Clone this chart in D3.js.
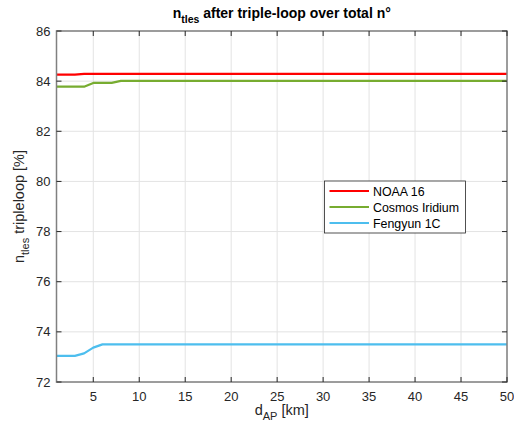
<!DOCTYPE html>
<html>
<head>
<meta charset="utf-8">
<script src="https://cdn.jsdelivr.net/npm/d3@7"></script>
<style>
  html, body { margin: 0; padding: 0; background: #fff; }
  svg { display: block; font-family: "Liberation Sans", Arial, sans-serif; }
</style>
</head>
<body>
<div id="chart"></div>
<script>
// series data (only the points where the value changes; line is flat in between)
const noaaX = [1, 3, 4, 50];
const noaaY = [84.26, 84.26, 84.29, 84.29];
const cosmosX = [1, 4, 5, 7, 8, 50];
const cosmosY = [83.78, 83.78, 83.93, 83.93, 84.01, 84.01];
const fengyunX = [1, 3, 4, 5, 6, 50];
const fengyunY = [73.04, 73.04, 73.14, 73.37, 73.5, 73.5];

const seriesNames = ['NOAA 16', 'Cosmos Iridium', 'Fengyun 1C'];
const seriesColors = ['#ff0000', '#77ac30', '#4dbeee'];

const xTicks = [5, 10, 15, 20, 25, 30, 35, 40, 45, 50];
const yTicks = [72, 74, 76, 78, 80, 82, 84, 86];

(function () {
  const W = 514, H = 434;
  const m = { left: 56.5, right: 7, top: 31, bottom: 52 };

  const svg = d3.select('#chart').append('svg')
    .attr('width', W).attr('height', H);

  const x = d3.scaleLinear().domain([1, 50]).range([m.left, W - m.right]);
  const y = d3.scaleLinear().domain([72, 86]).range([H - m.bottom, m.top]);

  const series = [
    { name: seriesNames[0], color: seriesColors[0], xs: noaaX, ys: noaaY },
    { name: seriesNames[1], color: seriesColors[1], xs: cosmosX, ys: cosmosY },
    { name: seriesNames[2], color: seriesColors[2], xs: fengyunX, ys: fengyunY }
  ];

  // grid
  const grid = svg.append('g').attr('stroke', '#e3e3e3').attr('stroke-width', 1);
  grid.selectAll('line.gx').data(xTicks).enter().append('line')
    .attr('x1', d => x(d)).attr('x2', d => x(d))
    .attr('y1', y(72)).attr('y2', y(86));
  grid.selectAll('line.gy').data(yTicks).enter().append('line')
    .attr('y1', d => y(d)).attr('y2', d => y(d))
    .attr('x1', x(1)).attr('x2', x(50));

  // lines
  const line = d3.line().x(d => x(d[0])).y(d => y(d[1]));
  svg.append('g').selectAll('path').data(series).enter().append('path')
    .attr('fill', 'none')
    .attr('stroke', d => d.color)
    .attr('stroke-width', 2.2)
    .attr('stroke-linejoin', 'round')
    .attr('d', d => line(d.xs.map((v, i) => [v, d.ys[i]])));

  // box
  svg.append('rect')
    .attr('x', x(1)).attr('y', y(86))
    .attr('width', x(50) - x(1)).attr('height', y(72) - y(86))
    .attr('fill', 'none').attr('stroke', '#808080').attr('stroke-width', 1.5);

  // ticks (inward, all four sides)
  const tl = 5;
  const ticks = svg.append('g').attr('stroke', '#262626').attr('stroke-width', 1);
  xTicks.forEach(t => {
    ticks.append('line').attr('x1', x(t)).attr('x2', x(t)).attr('y1', y(72)).attr('y2', y(72) - tl);
    ticks.append('line').attr('x1', x(t)).attr('x2', x(t)).attr('y1', y(86)).attr('y2', y(86) + tl);
  });
  yTicks.forEach(t => {
    ticks.append('line').attr('y1', y(t)).attr('y2', y(t)).attr('x1', x(1)).attr('x2', x(1) + tl);
    ticks.append('line').attr('y1', y(t)).attr('y2', y(t)).attr('x1', x(50)).attr('x2', x(50) - tl);
  });

  // tick labels
  svg.append('g').selectAll('text').data(xTicks).enter().append('text')
    .attr('x', d => x(d)).attr('y', y(72) + 19)
    .attr('text-anchor', 'middle').attr('font-size', 13).attr('fill', '#262626')
    .text(d => d);
  svg.append('g').selectAll('text').data(yTicks).enter().append('text')
    .attr('x', x(1) - 6).attr('y', d => y(d) + 4.5)
    .attr('text-anchor', 'end').attr('font-size', 13).attr('fill', '#262626')
    .text(d => d);

  // title
  const title = svg.append('text')
    .attr('x', (x(1) + x(50)) / 2).attr('y', 18)
    .attr('text-anchor', 'middle').attr('font-size', 14).attr('font-weight', 'bold')
    .attr('fill', '#000');
  title.append('tspan').text('n');
  title.append('tspan').attr('font-size', 10.5).attr('dy', 5).text('tles');
  title.append('tspan').attr('dy', -5).text(' after triple-loop over total n°');

  // x label
  const xl = svg.append('text')
    .attr('x', (x(1) + x(50)) / 2).attr('y', 415)
    .attr('text-anchor', 'middle').attr('font-size', 14.5).attr('fill', '#262626');
  xl.append('tspan').text('d');
  xl.append('tspan').attr('font-size', 11).attr('dy', 5).text('AP');
  xl.append('tspan').attr('dy', -5).text(' [km]');

  // y label
  const yl = svg.append('text')
    .attr('transform', `translate(24,${(y(72) + y(86)) / 2}) rotate(-90)`)
    .attr('text-anchor', 'middle').attr('font-size', 14.5).attr('fill', '#262626');
  yl.append('tspan').text('n');
  yl.append('tspan').attr('font-size', 11).attr('dy', 5).text('tles');
  yl.append('tspan').attr('dy', -5).text(' tripleloop [%]');

  // legend
  const lg = svg.append('g').attr('transform', 'translate(324.5,181)');
  lg.append('rect')
    .attr('width', 141).attr('height', 52)
    .attr('fill', '#fff').attr('stroke', '#262626').attr('stroke-width', 0.8);
  const items = lg.selectAll('g.item').data(series).enter().append('g')
    .attr('transform', (d, i) => `translate(0,${10 + i * 16})`);
  items.append('line')
    .attr('x1', 5).attr('x2', 44.5)
    .attr('stroke', d => d.color).attr('stroke-width', 2.2);
  items.append('text')
    .attr('x', 48.5).attr('y', 4.5)
    .attr('font-size', 12.4).attr('fill', '#000')
    .text(d => d.name);
})();
</script>
</body>
</html>
